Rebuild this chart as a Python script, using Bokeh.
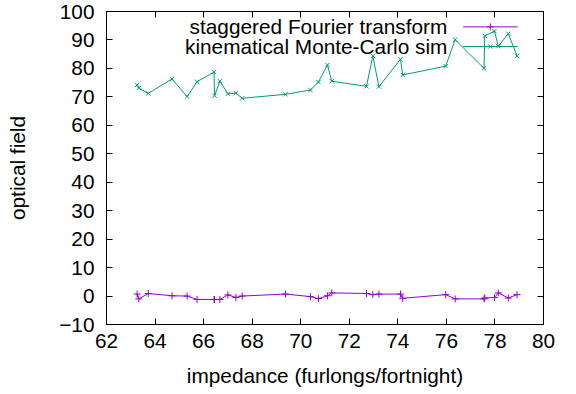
from bokeh.plotting import figure
from bokeh.models import Range1d, LinearAxis, FixedTicker, Label
from bokeh.embed import file_html
from bokeh.resources import INLINE

# ---- data ----
impedance = [63.26, 63.33, 63.72, 64.70, 65.32, 65.73, 66.43, 66.45, 66.67, 67.00,
             67.33, 67.59, 69.37, 70.40, 70.73, 71.10, 71.28, 72.71, 72.97, 73.22,
             74.11, 74.20, 75.97, 76.36, 77.55, 77.58, 77.98, 78.14, 78.55, 78.91]
fourier = [0.7, -1.0, 0.9, 0.1, 0.0, -1.2, -1.2, -1.2, -1.2, 0.4,
           -0.5, 0.0, 0.7, -0.2, -0.9, 0.1, 1.1, 0.9, 0.5, 0.7,
           0.7, -0.8, 0.5, -1.0, -1.0, -0.7, -0.5, 1.1, -0.7, 0.5]
montecarlo = [74.2, 73.1, 71.2, 76.3, 70.1, 75.3, 78.7, 70.4, 75.5, 71.1,
              71.3, 69.5, 70.9, 72.4, 75.2, 81.2, 75.5, 73.7, 84.4, 73.6,
              83.2, 77.7, 80.8, 90.1, 80.0, 91.4, 93.1, 87.8, 92.2, 84.4]
series_names = ["staggered Fourier transform", "kinematical Monte-Carlo sim"]
x_ticks = list(range(62, 81, 2))
y_ticks = list(range(-10, 101, 10))

PURPLE = "#9400d3"
GREEN = "#009e73"
FONT = "Liberation Sans"
FS = "20.8px"

p = figure(width=576, height=394, output_backend="svg", toolbar_location=None,
           x_range=Range1d(62, 80), y_range=Range1d(-10, 100),
           min_border_left=106, min_border_right=33, min_border_top=11,
           min_border_bottom=70)
p.background_fill_color = "white"
p.border_fill_color = "white"
p.grid.visible = False
p.outline_line_color = "black"
p.outline_line_width = 1

for ax, ticks in ((p.xaxis[0], x_ticks), (p.yaxis[0], y_ticks)):
    ax.ticker = FixedTicker(ticks=ticks)
    ax.major_tick_in = 6
    ax.major_tick_out = 0
    ax.minor_tick_line_color = None
    ax.major_label_text_font = FONT
    ax.major_label_text_font_size = FS
    ax.major_label_text_color = "black"
    ax.axis_label_text_font = FONT
    ax.axis_label_text_font_size = FS
    ax.axis_label_text_font_style = "normal"
    ax.axis_label_text_color = "black"
    ax.axis_line_color = "black"
p.xaxis[0].axis_label = "impedance (furlongs/fortnight)"
p.yaxis[0].axis_label = "optical field"
p.xaxis[0].major_label_standoff = 9
p.xaxis[0].axis_label_standoff = 13
p.yaxis[0].major_label_standoff = 12
p.yaxis[0].axis_label_standoff = 27

# mirrored ticks on top and right (no labels)
for loc, ticks in (("above", x_ticks), ("right", y_ticks)):
    a = LinearAxis(ticker=FixedTicker(ticks=ticks), major_tick_in=6, major_tick_out=0,
                   minor_tick_line_color=None,
                   major_label_overrides={t: "" for t in ticks},
                   major_label_standoff=0, axis_line_color=None)
    p.add_layout(a, loc)

# series
p.line(impedance, fourier, line_color=PURPLE, line_width=1)
p.scatter(impedance, fourier, marker="cross", size=7, line_color=PURPLE, line_width=1)
p.line(impedance, montecarlo, line_color=GREEN, line_width=1)
p.scatter(impedance, montecarlo, marker="x", size=6, line_color=GREEN, line_width=1)

# gnuplot-style legend (text then sample)
leg_text_x = 76.04
leg_line_x = [76.69, 78.94]
leg_mark_x = 77.81
leg_rows_y = [94.6, 87.7]
for name, col, mk, yy in zip(series_names, [PURPLE, GREEN], ["cross", "x"], leg_rows_y):
    p.add_layout(Label(x=leg_text_x, y=yy, text=name, text_align="right",
                       text_baseline="middle", text_font=FONT, text_font_size=FS,
                       text_color="black"))
    p.line(leg_line_x, [yy, yy], line_color=col, line_width=1)
    p.scatter([leg_mark_x], [yy], marker=mk, size=7 if mk == "cross" else 6,
              line_color=col, line_width=1)

open("out.html", "w").write(file_html(p, INLINE))
